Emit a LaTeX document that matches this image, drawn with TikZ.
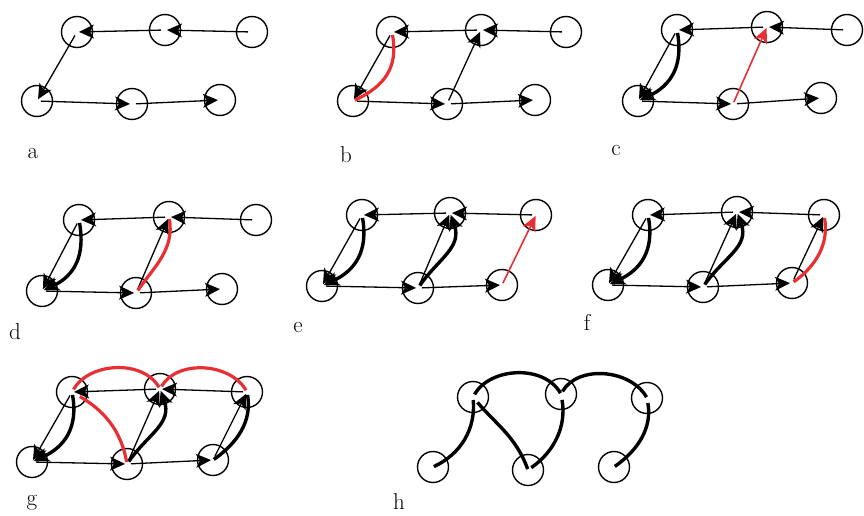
\documentclass[tikz,border=0pt]{standalone}
\usetikzlibrary{arrows.meta}
\definecolor{rd}{RGB}{232,48,52}
\begin{document}
\begin{tikzpicture}[x=1pt,y=-1pt,
  vtx/.style={circle,draw,line width=1.4pt,minimum size=31pt,inner sep=0pt},
  hd/.tip={Stealth[length=15pt,width=14pt,inset=4pt]},
  arr/.style={line width=1.3pt,-hd,shorten <=4pt,shorten >=2pt},
  reda/.style={line width=1.6pt,draw=rd,fill=rd,-hd,shorten <=2pt,shorten >=1pt},
  thk/.style={line width=3.4pt,shorten <=3pt,shorten >=1pt},
  thka/.style={line width=3.4pt,-hd,shorten <=3pt,shorten >=2pt,looseness=1.15},
  redc/.style={line width=3.2pt,draw=rd,shorten <=3pt,shorten >=2pt},
  lab/.style={font=\fontsize{23}{26}\selectfont,anchor=base,inner sep=0pt}]
\useasboundingbox (0,0) rectangle (864,516);

% ---------- panel a
\node[vtx] (a1) at (77,32) {};
\node[vtx] (a2) at (165,30) {};
\node[vtx] (a3) at (252,32) {};
\node[vtx] (a4) at (37,101) {};
\node[vtx] (a5) at (132,104) {};
\node[vtx] (a6) at (220,100) {};
\draw[arr] (a3.center) -- (a2.center);
\draw[arr] (a2.center) -- (a1.center);
\draw[arr] (a1.center) -- (a4.center);
\draw[arr] (a4.center) -- (a5.center);
\draw[arr] (a5.center) -- (a6.center);
\node[lab] (la) at (33,158) {a};

% ---------- panel b
\node[vtx] (b1) at (392,32) {};
\node[vtx] (b2) at (481,30) {};
\node[vtx] (b3) at (566,32) {};
\node[vtx] (b4) at (353,101) {};
\node[vtx] (b5) at (447,104) {};
\node[vtx] (b6) at (535,100) {};
\draw[arr] (b3.center) -- (b2.center);
\draw[arr] (b2.center) -- (b1.center);
\draw[arr] (b1.center) -- (b4.center);
\draw[arr] (b4.center) -- (b5.center);
\draw[arr] (b5.center) -- (b6.center);
\draw[arr] (b5.center) -- (b2.center);
\draw[redc,looseness=1.15] (b1.center) to[out=-80,in=25] (b4.center);
\node[lab] (lb) at (346,162) {b};

% ---------- panel c
\node[vtx] (c1) at (677,30) {};
\node[vtx] (c2) at (767,27) {};
\node[vtx] (c3) at (847,30) {};
\node[vtx] (c4) at (638,101) {};
\node[vtx] (c5) at (733,104) {};
\node[vtx] (c6) at (821,98) {};
\draw[arr] (c3.center) -- (c2.center);
\draw[arr] (c2.center) -- (c1.center);
\draw[arr] (c1.center) -- (c4.center);
\draw[arr] (c4.center) -- (c5.center);
\draw[arr] (c5.center) -- (c6.center);
\draw[thka] (c1.center) to[out=-80,in=25] (c4.center);
\draw[reda] (c5.center) -- (c2.center);
\node[lab] (lc) at (616,155) {c};

% ---------- panel d
\node[vtx] (d1) at (79,220) {};
\node[vtx] (d2) at (169,217) {};
\node[vtx] (d3) at (256,220) {};
\node[vtx] (d4) at (42,291) {};
\node[vtx] (d5) at (136,293) {};
\node[vtx] (d6) at (222,289) {};
\draw[arr] (d3.center) -- (d2.center);
\draw[arr] (d2.center) -- (d1.center);
\draw[arr] (d1.center) -- (d4.center);
\draw[arr] (d4.center) -- (d5.center);
\draw[arr] (d5.center) -- (d6.center);
\draw[arr] (d5.center) -- (d2.center);
\draw[thka] (d1.center) to[out=-80,in=25] (d4.center);
\draw[redc] (d5.center) to[out=55,in=-80] (d2.center);
\node[lab] (ld) at (15,339) {d};

% ---------- panel e
\node[vtx] (e1) at (362,215) {};
\node[vtx] (e2) at (450,213) {};
\node[vtx] (e3) at (536,215) {};
\node[vtx] (e4) at (322,286) {};
\node[vtx] (e5) at (418,288) {};
\node[vtx] (e6) at (502,285) {};
\draw[arr] (e3.center) -- (e2.center);
\draw[arr] (e2.center) -- (e1.center);
\draw[arr] (e1.center) -- (e4.center);
\draw[arr] (e4.center) -- (e5.center);
\draw[arr] (e5.center) -- (e6.center);
\draw[arr] (e5.center) -- (e2.center);
\draw[thka] (e1.center) to[out=-80,in=25] (e4.center);
\draw[thka] (e5.center) to[out=55,in=-70] (e2.center);
\draw[reda] (e6.center) -- (e3.center);
\node[lab] (le) at (298,332) {e};

% ---------- panel f
\node[vtx] (f1) at (648,215) {};
\node[vtx] (f2) at (737,212) {};
\node[vtx] (f3) at (824,215) {};
\node[vtx] (f4) at (608,285) {};
\node[vtx] (f5) at (703,287) {};
\node[vtx] (f6) at (792,283) {};
\draw[arr] (f3.center) -- (f2.center);
\draw[arr] (f2.center) -- (f1.center);
\draw[arr] (f1.center) -- (f4.center);
\draw[arr] (f4.center) -- (f5.center);
\draw[arr] (f5.center) -- (f6.center);
\draw[arr] (f5.center) -- (f2.center);
\draw[arr] (f6.center) -- (f3.center);
\draw[thka] (f1.center) to[out=-80,in=25] (f4.center);
\draw[thka] (f5.center) to[out=55,in=-70] (f2.center);
\draw[redc] (f3.center) to[out=-80,in=35] (f6.center);
\node[lab] (lf) at (587,330) {f};

% ---------- panel g
\node[vtx] (g1) at (72,392) {};
\node[vtx] (g2) at (160,389) {};
\node[vtx] (g3) at (247,392) {};
\node[vtx] (g4) at (32,462) {};
\node[vtx] (g5) at (127,464) {};
\node[vtx] (g6) at (213,460) {};
\draw[arr] (g3.center) -- (g2.center);
\draw[arr] (g2.center) -- (g1.center);
\draw[arr] (g1.center) -- (g4.center);
\draw[arr] (g4.center) -- (g5.center);
\draw[arr] (g5.center) -- (g6.center);
\draw[arr] (g5.center) -- (g2.center);
\draw[arr] (g6.center) -- (g3.center);
\draw[thka] (g1.center) to[out=-80,in=25] (g4.center);
\draw[thka] (g5.center) to[out=55,in=-70] (g2.center);
\draw[thk] (g3.center) to[out=-80,in=35] (g6.center);
\draw[redc] (g1.center) to[out=60,in=120] (g2.center);
\draw[redc] (g2.center) to[out=60,in=120] (g3.center);
\draw[redc,shorten <=9pt] (g1.center) to[out=-30,in=100] (g5.center);
\node[lab] (lg) at (32,505) {g};

% ---------- panel h
\node[vtx] (h1) at (473,397) {};
\node[vtx] (h2) at (561,394) {};
\node[vtx] (h3) at (647,398) {};
\node[vtx] (h4) at (433,467) {};
\node[vtx] (h5) at (528,470) {};
\node[vtx] (h6) at (614,467) {};
\draw[thk] (h1.center) to[out=60,in=120] (h2.center);
\draw[thk] (h2.center) to[out=60,in=120] (h3.center);
\draw[thk] (h1.center) to[out=-85,in=25] (h4.center);
\draw[thk,shorten <=7pt] (h1.center) to[out=-50,in=110] (h5.center);
\draw[thk,shorten <=6pt,shorten >=4pt] (h2.center) to[out=-80,in=35] (h5.center);
\draw[thk,shorten <=5pt] (h3.center) to[out=-80,in=35] (h6.center);
\node[lab] (lh) at (399,509) {h};
\end{tikzpicture}
\end{document}
